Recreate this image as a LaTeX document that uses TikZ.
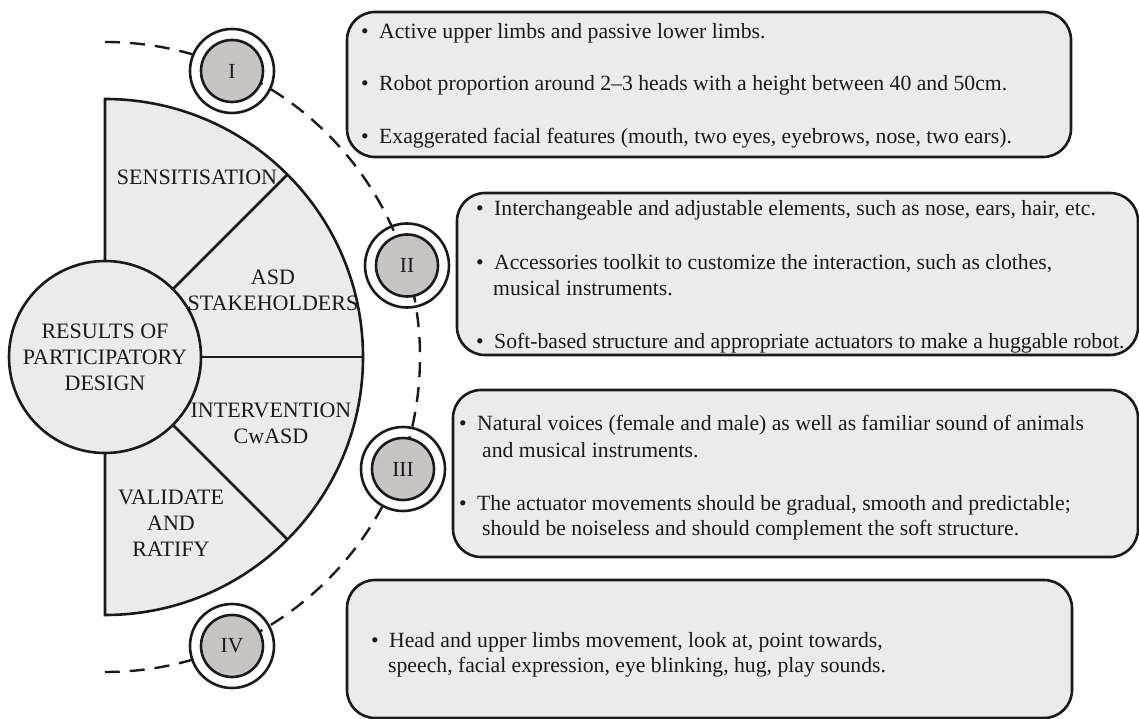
\documentclass[tikz,border=0pt]{standalone}
\usepackage{fontspec}
\setmainfont{Liberation Serif}
\usetikzlibrary{calc}
\definecolor{fillg}{RGB}{235,235,235}
\definecolor{numg}{RGB}{201,196,196}
\definecolor{ink}{RGB}{26,26,26}
\newcommand{\itembul}{\makebox[18pt][l]{\textbullet}}
\begin{document}
\begin{tikzpicture}[x=1pt,y=-1pt,
  ln/.style={line width=2.6pt, draw=ink},
  dasharc/.style={line width=2.4pt, draw=ink, dash pattern=on 15pt off 10pt},
  sector/.style={ln, fill=fillg},
  corecirc/.style={circle, ln, fill=fillg, minimum size=192pt, inner sep=0pt, align=center, text=ink, font=\fontsize{22}{26}\selectfont},
  seclabel/.style={align=center, inner sep=0pt, text=ink, font=\fontsize{22}{26}\selectfont},
  numouter/.style={circle, ln, minimum size=84pt, inner sep=0pt},
  numinner/.style={circle, ln, fill=numg, minimum size=62pt, inner sep=0pt, text=ink, font=\fontsize{21.5}{25}\selectfont},
  infobox/.style={ln, fill=fillg, rounded corners=28pt, inner sep=0pt},
  boxtxt/.style={anchor=base west, inner sep=0pt, text=ink, font=\fontsize{21.7}{26}\selectfont}
]
\useasboundingbox (0,0) rectangle (1139,719);
\coordinate (c) at (105,357);

% dashed arc
\coordinate (dtop) at (105,42);
\draw[dasharc] (dtop) arc[start angle=-90, end angle=90, radius=315];

% half disc with sectors
\coordinate (stop) at (105,99);
\draw[sector] (stop) arc[start angle=-90, end angle=90, radius=258] -- cycle;
\node[corecirc] (core) at (105,357) {RESULTS OF\\PARTICIPATORY\\DESIGN};
\coordinate (r45) at ($(c)+(-45:258)$);
\coordinate (r0) at ($(c)+(0:258)$);
\coordinate (rm45) at ($(c)+(45:258)$);
\draw[ln] (core.45) -- (r45);
\draw[ln] (core.0) -- (r0);
\draw[ln] (core.-45) -- (rm45);

\node[seclabel] (s1) at (197,177) {SENSITISATION};
\node[seclabel] (s2) at (273,290.5) {ASD\\STAKEHOLDERS};
\node[seclabel] (s3) at (271,423.5) {INTERVENTION\\CwASD};
\node[seclabel] (s4) at (171,523) {VALIDATE\\AND\\RATIFY};

% info boxes
\node[infobox, minimum width=724pt, minimum height=145pt] (b1) at (709,84.5) {};
\node[infobox, minimum width=681pt, minimum height=162pt] (b2) at (797.5,274) {};
\node[infobox, minimum width=685pt, minimum height=167pt] (b3) at (795.5,473.5) {};
\node[infobox, minimum width=725pt, minimum height=138pt] (b4) at (709.5,649) {};

\node[boxtxt] (t11) at (361,39) {\itembul Active upper limbs and passive lower limbs.};
\node[boxtxt] (t12) at (361,91) {\itembul Robot proportion around 2--3 heads with a height between 40 and 50cm.};
\node[boxtxt] (t13) at (361,144) {\itembul Exaggerated facial features (mouth, two eyes, eyebrows, nose, two ears).};

\node[boxtxt] (t21) at (476,216) {\itembul Interchangeable and adjustable elements, such as nose, ears, hair, etc.};
\node[boxtxt] (t22) at (476,269) {\itembul Accessories toolkit to customize the interaction, such as clothes,};
\node[boxtxt] (t22b) at (493,295) {musical instruments.};
\node[boxtxt] (t23) at (476,348) {\itembul Soft-based structure and appropriate actuators to make a huggable robot.};

\node[boxtxt] (t31) at (459,430) {\itembul Natural voices (female and male) as well as familiar sound of animals};
\node[boxtxt] (t31b) at (482,457) {and musical instruments.};
\node[boxtxt] (t32) at (459,510) {\itembul The actuator movements should be gradual, smooth and predictable;};
\node[boxtxt] (t32b) at (482,535) {should be noiseless and should complement the soft structure.};

\node[boxtxt] (t41) at (371,647) {\itembul Head and upper limbs movement, look at, point towards,};
\node[boxtxt] (t41b) at (388,672) {speech, facial expression, eye blinking, hug, play sounds.};

% numeral circles
\node[numouter] (n1o) at (232,71) {};
\node[numinner] (n1) at (232,71) {I};
\node[numouter] (n2o) at (407,265.5) {};
\node[numinner] (n2) at (407,265.5) {II};
\node[numouter] (n3o) at (403,469) {};
\node[numinner] (n3) at (403,469) {III};
\node[numouter] (n4o) at (232,646) {};
\node[numinner] (n4) at (232,646) {IV};
\end{tikzpicture}
\end{document}
